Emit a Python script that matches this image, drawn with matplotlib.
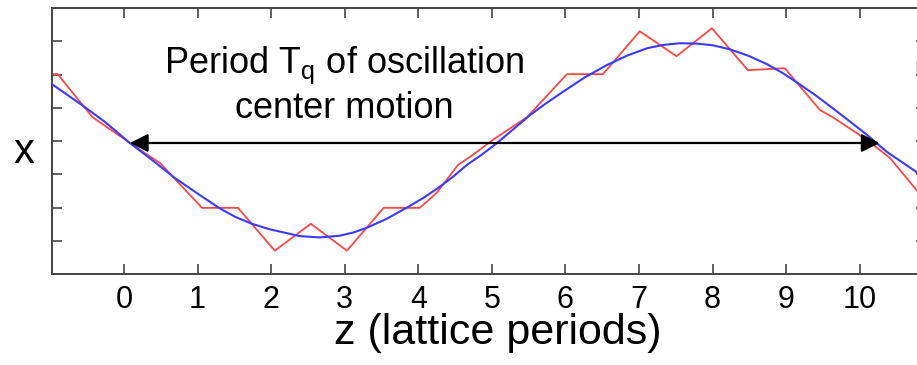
import matplotlib.pyplot as plt

plt.rcParams['font.family'] = ['Liberation Sans', 'DejaVu Sans']
plt.rcParams['mathtext.fontset'] = 'custom'
plt.rcParams['mathtext.rm'] = 'Liberation Sans'

# Discrete trajectory (red zigzag): z in lattice periods, x in tick units
z_red = [-0.98, -0.90, -0.43, 0.26, 0.49, 1.06, 1.55, 2.05, 2.54, 3.03, 3.53,
         4.02, 4.25, 4.54, 4.74, 5.01, 5.48, 5.63, 6.02, 6.51, 7.01, 7.51,
         7.99, 8.48, 8.98, 9.14, 9.46, 9.63, 10.10, 10.41, 10.77, 10.92]
x_red = [2.01, 2.01, 0.72, -0.33, -0.66, -2.01, -2.01, -3.30, -2.49, -3.30,
         -2.01, -2.01, -1.56, -0.72, -0.42, 0.03, 0.72, 1.08, 2.01, 2.01, 3.30,
         2.55, 3.39, 2.13, 2.19, 1.77, 0.93, 0.72, 0.03, -0.51, -1.47, -1.95]

# Oscillation centre (blue smooth curve)
z_blue = [-0.98, -0.57, -0.25, 0.08, 0.40, 0.69, 1.00, 1.29, 1.51, 1.74, 1.97,
          2.19, 2.39, 2.66, 2.93, 3.12, 3.30, 3.57, 3.84, 4.07, 4.29, 4.48,
          4.66, 4.87, 5.07, 5.30, 5.52, 5.74, 5.96, 6.26, 6.56, 6.84, 7.11,
          7.33, 7.55, 7.78, 8.00, 8.23, 8.49, 8.74, 8.94, 9.14, 9.39, 9.63,
          9.87, 10.10, 10.37, 10.77, 10.92]
x_blue = [1.71, 1.08, 0.56, -0.06, -0.60, -1.11, -1.58, -2.01, -2.28, -2.49,
          -2.65, -2.76, -2.86, -2.90, -2.85, -2.75, -2.61, -2.34, -2.01, -1.71,
          -1.38, -1.06, -0.72, -0.40, -0.06, 0.37, 0.78, 1.14, 1.47, 1.91, 2.28,
          2.57, 2.79, 2.89, 2.94, 2.93, 2.88, 2.76, 2.56, 2.31, 2.06, 1.77,
          1.39, 0.99, 0.58, 0.18, -0.33, -0.93, -1.15]

period_span = [0.08, 10.27]
arrow_level = -0.06
z_ticks = list(range(0, 11))
x_ticks = [-3, -2, -1, 0, 1, 2, 3]
edge_marker = (10.86, 2.22)

fig = plt.figure(figsize=(9.17, 3.65), dpi=100)
ax = fig.add_axes([52 / 917, 91 / 365, 874 / 917, 266 / 365])

ax.plot(z_red, x_red, color='#ff4545', lw=1.3, zorder=2)
ax.plot(z_blue, x_blue, color='#3a3aff', lw=1.5, zorder=3)

ax.annotate('', xy=(period_span[1], arrow_level), xytext=(period_span[0], arrow_level),
            arrowprops=dict(arrowstyle='<|-|>,head_length=0.5,head_width=0.25',
                            color='black', lw=1.6, mutation_scale=22,
                            shrinkA=0, shrinkB=0), zorder=4)
ax.plot(*edge_marker, marker='>', color='black', ms=9, clip_on=False)

ax.text(3.0, 2.05, 'Period T$_\\mathrm{q}$ of oscillation', ha='center', va='baseline',
        fontsize=26)
ax.text(3.0, 0.69, 'center motion', ha='center', va='baseline', fontsize=26)

ax.set_xlim(-0.978, 10.9)
ax.set_ylim(-4, 4)
ax.set_xticks(z_ticks)
ax.set_yticks(x_ticks)
ax.set_yticklabels([])
ax.tick_params(direction='in', length=7, width=1.2, color='#444444',
               top=True, right=True, labelsize=22, pad=8)
for s in ax.spines.values():
    s.set_color('#444444')
    s.set_linewidth(1.4)

fig.text(24 / 917, 1 - 163 / 365, 'x', ha='center', va='baseline', fontsize=30)
fig.text(498 / 917, 1 - 344 / 365, 'z (lattice periods)', ha='center', va='baseline',
         fontsize=31)

fig.savefig('out.png', dpi=100)
